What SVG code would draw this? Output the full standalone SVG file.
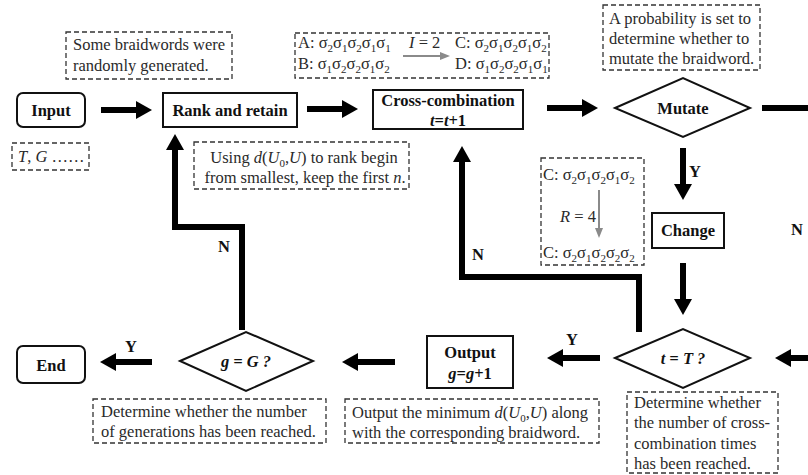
<svg xmlns="http://www.w3.org/2000/svg" width="808" height="475" viewBox="0 0 808 475">
<style>
.t{font-family:"Liberation Serif","Times New Roman",serif;font-size:16.5px;fill:#2a2a2a}
.b{font-weight:bold;fill:#111}
.c{text-anchor:middle}
.sb{font-size:11px}
.i{font-style:italic}
.n{fill:#fff;stroke:#111;stroke-width:2}
.d{fill:none;stroke:#333;stroke-width:1.3;stroke-dasharray:5 3}
.k{fill:none;stroke:#000;stroke-width:6;stroke-linejoin:miter}
.g{fill:none;stroke:#8a8a8a;stroke-width:2}
</style>
<defs>
<marker id="ah" viewBox="0 0 16 18" refX="1" refY="9" markerWidth="16" markerHeight="18" orient="auto" markerUnits="userSpaceOnUse"><path d="M0,0 L16,9 L0,18 z" fill="#000"/></marker>
<marker id="gh" viewBox="0 0 10 8" refX="1" refY="4" markerWidth="10" markerHeight="8" orient="auto" markerUnits="userSpaceOnUse"><path d="M0,0 L10,4 L0,8 z" fill="#8a8a8a"/></marker>
</defs>
<rect width="808" height="475" fill="#fff"/>

<g id="connectors">
<line class="k" x1="101" y1="110" x2="137" y2="110" marker-end="url(#ah)"/>
<line class="k" x1="307" y1="109" x2="343" y2="109" marker-end="url(#ah)"/>
<line class="k" x1="547" y1="108" x2="583" y2="108" marker-end="url(#ah)"/>
<line class="k" x1="762" y1="108" x2="808" y2="108"/>
<line class="k" x1="683" y1="148" x2="683" y2="185" marker-end="url(#ah)"/>
<line class="k" x1="683" y1="263" x2="683" y2="300" marker-end="url(#ah)"/>
<line class="k" x1="808" y1="358" x2="790" y2="358" marker-end="url(#ah)"/>
<line class="k" x1="600" y1="358" x2="562" y2="358" marker-end="url(#ah)"/>
<line class="k" x1="395" y1="362" x2="357" y2="362" marker-end="url(#ah)"/>
<line class="k" x1="152" y1="362" x2="115" y2="362" marker-end="url(#ah)"/>
<path class="k" d="M242,330 V227 H175 V149" marker-end="url(#ah)"/>
<path class="k" d="M639,332 V277 H462 V161" marker-end="url(#ah)"/>
<text class="t b" x="218" y="252" font-size="15">N</text>
<text class="t b" x="472" y="260" font-size="15">N</text>
<text class="t b" x="791" y="235" font-size="15">N</text>
<text class="t b" x="689" y="177" font-size="15">Y</text>
<text class="t b" x="566" y="345" font-size="15">Y</text>
<text class="t b" x="125" y="352" font-size="15">Y</text>
</g>

<g id="input">
<rect class="n" x="17" y="93" width="68" height="34" rx="6"/>
<text class="t b c" x="51" y="116">Input</text>
</g>
<g id="input-note">
<rect class="d" x="12" y="143" width="77" height="27"/>
<text class="t" x="18" y="162"><tspan class="i">T</tspan>, <tspan class="i">G</tspan> ……</text>
</g>

<g id="random-note">
<rect class="d" x="66" y="32" width="166" height="47"/>
<text class="t" x="73" y="50">Some braidwords were</text>
<text class="t" x="73" y="71">randomly generated.</text>
</g>

<g id="rank">
<rect class="n" x="163" y="93" width="134" height="34"/>
<text class="t b c" x="230" y="116">Rank and retain</text>
</g>
<g id="rank-note">
<rect class="d" x="194" y="142" width="215" height="47"/>
<text class="t c" x="304" y="163">Using <tspan class="i">d</tspan>(<tspan class="i">U</tspan><tspan class="sb" dy="4">0</tspan><tspan dy="-4">,</tspan><tspan class="i">U</tspan>) to rank begin</text>
<text class="t c" x="305" y="183">from smallest, keep the first <tspan class="i">n</tspan>.</text>
</g>

<g id="cross-note">
<rect class="d" x="295" y="33" width="254" height="45"/>
<text class="t" x="298" y="48">A: σ<tspan class="sb" dy="4">2</tspan><tspan dy="-4">σ</tspan><tspan class="sb" dy="4">1</tspan><tspan dy="-4">σ</tspan><tspan class="sb" dy="4">2</tspan><tspan dy="-4">σ</tspan><tspan class="sb" dy="4">1</tspan><tspan dy="-4">σ</tspan><tspan class="sb" dy="4">1</tspan></text>
<text class="t" x="298" y="69">B: σ<tspan class="sb" dy="4">1</tspan><tspan dy="-4">σ</tspan><tspan class="sb" dy="4">2</tspan><tspan dy="-4">σ</tspan><tspan class="sb" dy="4">2</tspan><tspan dy="-4">σ</tspan><tspan class="sb" dy="4">1</tspan><tspan dy="-4">σ</tspan><tspan class="sb" dy="4">2</tspan></text>
<text class="t" x="455" y="48">C: σ<tspan class="sb" dy="4">2</tspan><tspan dy="-4">σ</tspan><tspan class="sb" dy="4">1</tspan><tspan dy="-4">σ</tspan><tspan class="sb" dy="4">2</tspan><tspan dy="-4">σ</tspan><tspan class="sb" dy="4">1</tspan><tspan dy="-4">σ</tspan><tspan class="sb" dy="4">2</tspan></text>
<text class="t" x="455" y="69">D: σ<tspan class="sb" dy="4">1</tspan><tspan dy="-4">σ</tspan><tspan class="sb" dy="4">2</tspan><tspan dy="-4">σ</tspan><tspan class="sb" dy="4">2</tspan><tspan dy="-4">σ</tspan><tspan class="sb" dy="4">1</tspan><tspan dy="-4">σ</tspan><tspan class="sb" dy="4">1</tspan></text>
<text class="t" x="409" y="48"><tspan class="i">I</tspan> = 2</text>
<line class="g" x1="403" y1="56" x2="441" y2="56" marker-end="url(#gh)"/>
</g>

<g id="cross">
<rect class="n" x="373" y="90" width="150" height="39"/>
<text class="t b c" x="448" y="106">Cross-combination</text>
<text class="t b c" x="448" y="126"><tspan class="i">t</tspan>=<tspan class="i">t</tspan>+1</text>
</g>

<g id="mutate-note">
<rect class="d" x="603" y="5" width="157" height="65"/>
<text class="t" x="609" y="24">A probability is set to</text>
<text class="t" x="609" y="44">determine whether to</text>
<text class="t" x="609" y="64">mutate the braidword.</text>
</g>

<g id="mutate">
<polygon class="n" points="615,108 683,78 750,108 683,137"/>
<text class="t b c" x="683" y="114">Mutate</text>
</g>

<g id="change-note">
<rect class="d" x="541" y="158" width="103" height="107"/>
<text class="t" x="543" y="180">C: σ<tspan class="sb" dy="4">2</tspan><tspan dy="-4">σ</tspan><tspan class="sb" dy="4">1</tspan><tspan dy="-4">σ</tspan><tspan class="sb" dy="4">2</tspan><tspan dy="-4">σ</tspan><tspan class="sb" dy="4">1</tspan><tspan dy="-4">σ</tspan><tspan class="sb" dy="4">2</tspan></text>
<text class="t" x="560" y="222"><tspan class="i">R</tspan> = 4</text>
<line class="g" x1="599" y1="190" x2="599" y2="229" marker-end="url(#gh)"/>
<text class="t" x="543" y="258">C: σ<tspan class="sb" dy="4">2</tspan><tspan dy="-4">σ</tspan><tspan class="sb" dy="4">1</tspan><tspan dy="-4">σ</tspan><tspan class="sb" dy="4">2</tspan><tspan dy="-4">σ</tspan><tspan class="sb" dy="4">2</tspan><tspan dy="-4">σ</tspan><tspan class="sb" dy="4">2</tspan></text>
</g>

<g id="change">
<rect class="n" x="652" y="213" width="72" height="35"/>
<text class="t b c" x="688" y="236">Change</text>
</g>

<g id="t-check">
<polygon class="n" points="615,358 683,329 750,358 683,388"/>
<text class="t b i c" x="683" y="364">t = T ?</text>
</g>
<g id="t-note">
<rect class="d" x="627" y="392" width="151" height="81"/>
<text class="t" x="634" y="408">Determine whether</text>
<text class="t" x="634" y="428">the number of cross-</text>
<text class="t" x="634" y="449">combination times</text>
<text class="t" x="634" y="469">has been reached.</text>
</g>

<g id="output">
<rect class="n" x="427" y="336" width="86" height="52"/>
<text class="t b c" x="470" y="358">Output</text>
<text class="t b c" x="470" y="379"><tspan class="i">g</tspan>=<tspan class="i">g</tspan>+1</text>
</g>
<g id="output-note">
<rect class="d" x="345" y="399" width="254" height="44"/>
<text class="t" x="352" y="418">Output the minimum <tspan class="i">d</tspan>(<tspan class="i">U</tspan><tspan class="sb" dy="4">0</tspan><tspan dy="-4">,</tspan><tspan class="i">U</tspan>) along</text>
<text class="t" x="352" y="438">with the corresponding braidword.</text>
</g>

<g id="g-check">
<polygon class="n" points="180,361 246,332 313,361 246,391"/>
<text class="t b i c" x="246" y="367">g = G ?</text>
</g>
<g id="g-note">
<rect class="d" x="93" y="399" width="233" height="44"/>
<text class="t" x="101" y="417">Determine whether the number</text>
<text class="t" x="101" y="437">of generations has been reached.</text>
</g>

<g id="end">
<rect class="n" x="17" y="346" width="68" height="37" rx="6"/>
<text class="t b c" x="51" y="371">End</text>
</g>
</svg>
